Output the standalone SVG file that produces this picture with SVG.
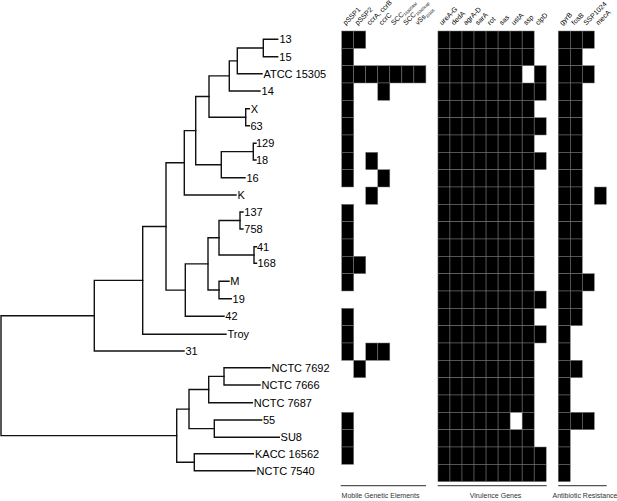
<svg xmlns="http://www.w3.org/2000/svg" xmlns:xlink="http://www.w3.org/1999/xlink" width="617" height="501" viewBox="0 0 617 501">
<style>
.c{fill:#000;stroke:#7a7a7a;stroke-width:0.5}
.br{fill:none;stroke:#111;stroke-width:1.4;stroke-linecap:square}
.lab{font-family:"Liberation Sans",Arial,sans-serif;font-size:11px;fill:#000}
.hd{font-family:"Liberation Sans",Arial,sans-serif;font-size:7px;fill:#000}
.sb{font-size:4px}
.grp{font-family:"Liberation Sans",Arial,sans-serif;font-size:7px;fill:#333;text-anchor:middle}
.ul{stroke:#555;stroke-width:1.3}
</style>
<defs>
<rect id="c" class="c" width="12.03" height="17.33"/>
<g id="v8">
<use href="#c" x="437.94"/><use href="#c" x="449.97"/><use href="#c" x="462"/><use href="#c" x="474.03"/><use href="#c" x="486.06"/><use href="#c" x="498.09"/><use href="#c" x="510.12"/><use href="#c" x="522.15"/>
</g>
</defs>
<rect width="617" height="501" fill="#fff"/>

<!-- column headers -->
<g id="headers">
<text class="hd" transform="translate(345.7,25.5) rotate(-45)">pSSP1</text>
<text class="hd" transform="translate(357.7,25.5) rotate(-45)">pSSP2</text>
<text class="hd" transform="translate(369.8,25.5) rotate(-45)">ccrA, ccrB</text>
<text class="hd" transform="translate(381.8,25.5) rotate(-45)">ccrC</text>
<text class="hd" transform="translate(393.8,25.5) rotate(-45)">SCC<tspan class="sb" dy="1.5">15305RM</tspan></text>
<text class="hd" transform="translate(405.9,25.5) rotate(-45)">SCC<tspan class="sb" dy="1.5">15305cap</tspan></text>
<text class="hd" transform="translate(417.9,25.5) rotate(-45)">vSs<tspan class="sb" dy="1.5">15305</tspan></text>
<text class="hd" transform="translate(442,25.5) rotate(-45)">ureA-G</text>
<text class="hd" transform="translate(454,25.5) rotate(-45)">dedA</text>
<text class="hd" transform="translate(466,25.5) rotate(-45)">agrA-D</text>
<text class="hd" transform="translate(478,25.5) rotate(-45)">sarA</text>
<text class="hd" transform="translate(490.1,25.5) rotate(-45)">rot</text>
<text class="hd" transform="translate(502.1,25.5) rotate(-45)">sas</text>
<text class="hd" transform="translate(514.1,25.5) rotate(-45)">ustA</text>
<text class="hd" transform="translate(526.2,25.5) rotate(-45)">ssp</text>
<text class="hd" transform="translate(538.2,25.5) rotate(-45)">clpD</text>
<text class="hd" transform="translate(562.3,25.5) rotate(-45)">gyrB</text>
<text class="hd" transform="translate(574.3,25.5) rotate(-45)">fosB</text>
<text class="hd" transform="translate(586.3,25.5) rotate(-45)">SSP1024</text>
<text class="hd" transform="translate(598.4,25.5) rotate(-45)">mecA</text>
</g>

<!-- tree connectors -->
<g id="connectors" class="br">
<path d="M277.7,39.3H263.3V56.7H277.7"/>
<path d="M263.3,48H237.3V73.7H262"/>
<path d="M237.3,60.85H229.3V91H260"/>
<path d="M249.3,108.7H245.7V125.7H249.3"/>
<path d="M229.3,75.9H209V117.2H245.7"/>
<path d="M256,143.3H253.3V160H256"/>
<path d="M253.3,151.65H221.3V177.7H245"/>
<path d="M209,96.55H195.7V164.7H221.3"/>
<path d="M195.7,130.6H184.3V195H236"/>
<path d="M243,212H240V229H243"/>
<path d="M256.5,246.7H254V263.3H256.5"/>
<path d="M240,220.5H219V255H254"/>
<path d="M229,281.3H219V298.7H231.3"/>
<path d="M219,237.75H208V290H219"/>
<path d="M208,263.9H185.3V316.3H224"/>
<path d="M184.3,162.8H166V290.1H185.3"/>
<path d="M166,226.45H142.7V334.3H226"/>
<path d="M142.7,280.4H94.3V351H184"/>
<path d="M270,367.7H224V385H260"/>
<path d="M224,376.35H208.7V402.7H252.3"/>
<path d="M261.7,420H214.3V437.3H279.3"/>
<path d="M208.7,389.5H189V428.65H214.3"/>
<path d="M253.3,453.7H194.3V470.7H255"/>
<path d="M189,409.1H176.7V462.2H194.3"/>
<path d="M94.3,315.7H1V435.65H176.7"/>
</g>

<!-- taxa: label + presence row -->
<g id="t-13"><text class="lab" x="279.5" y="43.3">13</text>
<g transform="translate(0,31)"><use href="#c" x="341.7"/><use href="#c" x="353.73"/><use href="#v8"/><use href="#c" x="558.24"/><use href="#c" x="570.27"/><use href="#c" x="582.3"/></g></g>
<g id="t-15"><text class="lab" x="279.3" y="60.6">15</text>
<g transform="translate(0,48.33)"><use href="#c" x="341.7"/><use href="#v8"/><use href="#c" x="558.24"/><use href="#c" x="570.27"/></g></g>
<g id="t-ATCC15305"><text class="lab" x="263.4" y="77.7">ATCC 15305</text>
<g transform="translate(0,65.66)"><use href="#c" x="341.7"/><use href="#c" x="353.73"/><use href="#c" x="365.76"/><use href="#c" x="377.79"/><use href="#c" x="389.82"/><use href="#c" x="401.85"/><use href="#c" x="413.88"/>
<use href="#c" x="437.94"/><use href="#c" x="449.97"/><use href="#c" x="462"/><use href="#c" x="474.03"/><use href="#c" x="486.06"/><use href="#c" x="498.09"/><use href="#c" x="510.12"/><use href="#c" x="534.18"/>
<use href="#c" x="558.24"/><use href="#c" x="570.27"/><use href="#c" x="582.3"/></g></g>
<g id="t-14"><text class="lab" x="261.6" y="95">14</text>
<g transform="translate(0,83)"><use href="#c" x="341.7"/><use href="#c" x="377.79"/><use href="#v8"/><use href="#c" x="534.18"/><use href="#c" x="558.24"/><use href="#c" x="570.27"/></g></g>
<g id="t-X"><text class="lab" x="250.7" y="112.7">X</text>
<g transform="translate(0,100.33)"><use href="#c" x="341.7"/><use href="#v8"/><use href="#c" x="558.24"/><use href="#c" x="570.27"/></g></g>
<g id="t-63"><text class="lab" x="250.5" y="129.7">63</text>
<g transform="translate(0,117.66)"><use href="#c" x="341.7"/><use href="#v8"/><use href="#c" x="534.18"/><use href="#c" x="558.24"/><use href="#c" x="570.27"/></g></g>
<g id="t-129"><text class="lab" x="256" y="147.3">129</text>
<g transform="translate(0,135)"><use href="#c" x="341.7"/><use href="#v8"/><use href="#c" x="558.24"/><use href="#c" x="570.27"/></g></g>
<g id="t-18"><text class="lab" x="256" y="164">18</text>
<g transform="translate(0,152.33)"><use href="#c" x="341.7"/><use href="#c" x="365.76"/><use href="#v8"/><use href="#c" x="534.18"/><use href="#c" x="558.24"/><use href="#c" x="570.27"/></g></g>
<g id="t-16"><text class="lab" x="246.5" y="181.7">16</text>
<g transform="translate(0,169.66)"><use href="#c" x="341.7"/><use href="#c" x="377.79"/><use href="#v8"/><use href="#c" x="558.24"/><use href="#c" x="570.27"/></g></g>
<g id="t-K"><text class="lab" x="237.4" y="199">K</text>
<g transform="translate(0,187)"><use href="#c" x="365.76"/><use href="#v8"/><use href="#c" x="558.24"/><use href="#c" x="570.27"/><use href="#c" x="594.33"/></g></g>
<g id="t-137"><text class="lab" x="244.3" y="216">137</text>
<g transform="translate(0,204.33)"><use href="#c" x="341.7"/><use href="#v8"/><use href="#c" x="558.24"/><use href="#c" x="570.27"/></g></g>
<g id="t-758"><text class="lab" x="244.3" y="233">758</text>
<g transform="translate(0,221.66)"><use href="#c" x="341.7"/><use href="#v8"/><use href="#c" x="558.24"/><use href="#c" x="570.27"/></g></g>
<g id="t-41"><text class="lab" x="257" y="250.7">41</text>
<g transform="translate(0,239)"><use href="#c" x="341.7"/><use href="#v8"/><use href="#c" x="558.24"/><use href="#c" x="570.27"/></g></g>
<g id="t-168"><text class="lab" x="257.4" y="267.3">168</text>
<g transform="translate(0,256.33)"><use href="#c" x="341.7"/><use href="#c" x="353.73"/><use href="#v8"/><use href="#c" x="558.24"/><use href="#c" x="570.27"/></g></g>
<g id="t-M"><text class="lab" x="230.3" y="285.3">M</text>
<g transform="translate(0,273.66)"><use href="#c" x="341.7"/><use href="#v8"/><use href="#c" x="558.24"/><use href="#c" x="570.27"/><use href="#c" x="582.3"/></g></g>
<g id="t-19"><text class="lab" x="232.6" y="302.7">19</text>
<g transform="translate(0,291)"><use href="#v8"/><use href="#c" x="534.18"/><use href="#c" x="558.24"/><use href="#c" x="570.27"/></g></g>
<g id="t-42"><text class="lab" x="225.3" y="320.3">42</text>
<g transform="translate(0,308.33)"><use href="#c" x="341.7"/><use href="#v8"/><use href="#c" x="558.24"/><use href="#c" x="570.27"/></g></g>
<g id="t-Troy"><text class="lab" x="227.5" y="338.3">Troy</text>
<g transform="translate(0,325.66)"><use href="#c" x="341.7"/><use href="#v8"/><use href="#c" x="534.18"/><use href="#c" x="558.24"/></g></g>
<g id="t-31"><text class="lab" x="185.4" y="355">31</text>
<g transform="translate(0,343)"><use href="#c" x="341.7"/><use href="#c" x="365.76"/><use href="#c" x="377.79"/><use href="#v8"/><use href="#c" x="558.24"/></g></g>
<g id="t-NCTC7692"><text class="lab" x="271.5" y="371.7">NCTC 7692</text>
<g transform="translate(0,360.33)"><use href="#c" x="353.73"/><use href="#v8"/><use href="#c" x="558.24"/><use href="#c" x="570.27"/></g></g>
<g id="t-NCTC7666"><text class="lab" x="261.5" y="389">NCTC 7666</text>
<g transform="translate(0,377.66)"><use href="#v8"/><use href="#c" x="558.24"/></g></g>
<g id="t-NCTC7687"><text class="lab" x="253.8" y="406.7">NCTC 7687</text>
<g transform="translate(0,395)"><use href="#v8"/><use href="#c" x="558.24"/></g></g>
<g id="t-55"><text class="lab" x="263" y="424">55</text>
<g transform="translate(0,412.33)"><use href="#c" x="341.7"/>
<use href="#c" x="437.94"/><use href="#c" x="449.97"/><use href="#c" x="462"/><use href="#c" x="474.03"/><use href="#c" x="486.06"/><use href="#c" x="498.09"/><use href="#c" x="522.15"/>
<use href="#c" x="558.24"/><use href="#c" x="570.27"/><use href="#c" x="582.3"/></g></g>
<g id="t-SU8"><text class="lab" x="280.6" y="441.3">SU8</text>
<g transform="translate(0,429.66)"><use href="#c" x="341.7"/><use href="#v8"/><use href="#c" x="558.24"/></g></g>
<g id="t-KACC16562"><text class="lab" x="255" y="457.7">KACC 16562</text>
<g transform="translate(0,447)"><use href="#c" x="341.7"/><use href="#v8"/><use href="#c" x="534.18"/><use href="#c" x="558.24"/></g></g>
<g id="t-NCTC7540"><text class="lab" x="256.6" y="474.7">NCTC 7540</text>
<g transform="translate(0,464.33)"><use href="#v8"/><use href="#c" x="534.18"/><use href="#c" x="558.24"/></g></g>

<!-- group legends -->
<g id="groups">
<line class="ul" x1="340.7" y1="485.7" x2="426" y2="485.7"/>
<line class="ul" x1="437.7" y1="485.7" x2="546.7" y2="485.7"/>
<line class="ul" x1="558.3" y1="485.7" x2="606.7" y2="485.7"/>
<text class="grp" x="380.5" y="498">Mobile Genetic Elements</text>
<text class="grp" x="495.5" y="498">Virulence Genes</text>
<text class="grp" x="585" y="498">Antibiotic Resistance</text>
</g>
</svg>
